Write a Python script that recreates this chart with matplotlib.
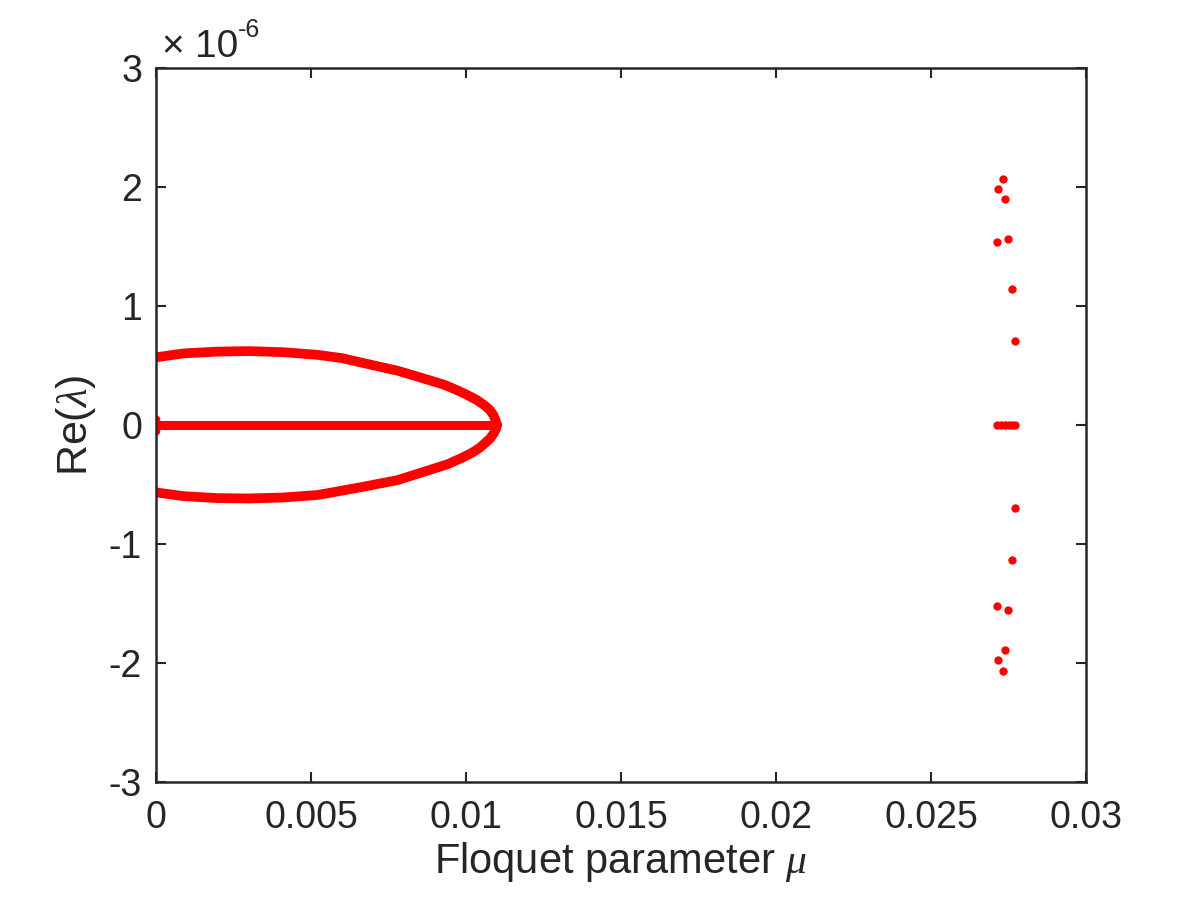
import matplotlib
matplotlib.use("Agg")
from matplotlib import pyplot as plt

plt.rcParams['font.family'] = ['Liberation Sans', 'DejaVu Sans']
plt.rcParams['mathtext.fontset'] = 'custom'
plt.rcParams['mathtext.it'] = 'Liberation Serif:italic'
plt.rcParams['mathtext.rm'] = 'Liberation Sans'
plt.rcParams['axes.unicode_minus'] = False

# upper branch of the loop (mu, Re(lambda) in units of 1e-6)
mu_upper = [0.0, 0.0009, 0.0020, 0.0030, 0.0041, 0.0052, 0.0060, 0.0067,
            0.0078, 0.0088, 0.0093, 0.0097, 0.0100, 0.01035, 0.0106,
            0.01077, 0.01088, 0.01095, 0.0110]
re_upper = [0.569, 0.602, 0.617, 0.621, 0.612, 0.590, 0.562, 0.520,
            0.456, 0.378, 0.338, 0.294, 0.258, 0.210, 0.165,
            0.126, 0.085, 0.042, 0.0]

# lower branch
mu_lower = [0.0, 0.0009, 0.0020, 0.0030, 0.0041, 0.0052, 0.0056, 0.0067,
            0.0078, 0.0088, 0.0094, 0.0099, 0.0102, 0.01045, 0.0106,
            0.01078, 0.01090, 0.01097, 0.0110]
re_lower = [-0.566, -0.598, -0.614, -0.617, -0.609, -0.588, -0.570, -0.518,
            -0.462, -0.380, -0.330, -0.272, -0.232, -0.190, -0.155,
            -0.112, -0.068, -0.030, 0.0]

# real eigenvalues on the axis
mu_zero = [0.0, 0.0109]
re_zero = [0.0, 0.0]
mu_origin = [0.0, 0.0, 0.0]
re_origin = [0.05, 0.0, -0.05]

# isolated cluster near mu = 0.027
mu_cluster = [0.02732, 0.02716, 0.02739, 0.02748, 0.02713, 0.02761, 0.02771,
              0.02771, 0.02761, 0.02748, 0.02713, 0.02739, 0.02716, 0.02732]
re_cluster = [2.067, 1.983, 1.899, 1.563, 1.538, 1.143, 0.706,
              -0.697, -1.134, -1.555, -1.521, -1.890, -1.975, -2.067]
mu_cluster0 = [0.02714, 0.02726, 0.02738, 0.02750, 0.02761, 0.02772]
re_cluster0 = [0.0, 0.0, 0.0, 0.0, 0.0, 0.0]

red = '#ff0000'
dark = '#262626'

fig = plt.figure(figsize=(12, 9), dpi=100)
ax = fig.add_axes([0.13, 0.131, 0.775, 0.7935])

band = dict(color=red, solid_capstyle='round', solid_joinstyle='round')
ax.plot(mu_upper, re_upper, lw=7, **band)
ax.plot(mu_lower, re_lower, lw=7, **band)
ax.plot(mu_zero, re_zero, lw=6.5, **band)
ax.plot(mu_origin, re_origin, 'o', color=red, ms=5.5, mew=0)
ax.plot(mu_cluster, re_cluster, 'o', color=red, ms=6, mew=0)
ax.plot(mu_cluster0, re_cluster0, 'o', color=red, ms=6, mew=0)

ax.set_xlim(0, 0.03)
ax.set_ylim(-3, 3)
ax.set_xticks([0, 0.005, 0.01, 0.015, 0.02, 0.025, 0.03])
ax.set_xticklabels(['0', '0.005', '0.01', '0.015', '0.02', '0.025', '0.03'])
ax.set_yticks([-3, -2, -1, 0, 1, 2, 3])
ax.set_yticklabels(['-3', '-2', '-1', '0', '1', '2', '3'])

for s in ax.spines.values():
    s.set_color(dark)
    s.set_linewidth(1.8)
ax.tick_params(direction='in', length=7, width=1.5, color=dark,
               top=True, right=True, labelsize=27, labelcolor=dark)
ax.tick_params(axis='x', pad=13)
ax.tick_params(axis='y', pad=10)

ax.set_xlabel(r'Floquet parameter $\mu$', fontsize=30, color=dark, labelpad=3)
ax.set_ylabel(r'Re($\lambda$)', fontsize=31, color=dark, labelpad=8)

# exponent label above the y axis, MATLAB style
ax.annotate('\u00d7', xy=(0, 1), xycoords='axes fraction', xytext=(4, 8),
            textcoords='offset points', fontsize=28, color=dark,
            ha='left', va='baseline')
ax.annotate('10', xy=(0, 1), xycoords='axes fraction', xytext=(28, 8),
            textcoords='offset points', fontsize=28, color=dark,
            ha='left', va='baseline')
ax.annotate('-6', xy=(0, 1), xycoords='axes fraction', xytext=(59, 22),
            textcoords='offset points', fontsize=18, color=dark,
            ha='left', va='baseline')

fig.savefig('out.png', dpi=100)
